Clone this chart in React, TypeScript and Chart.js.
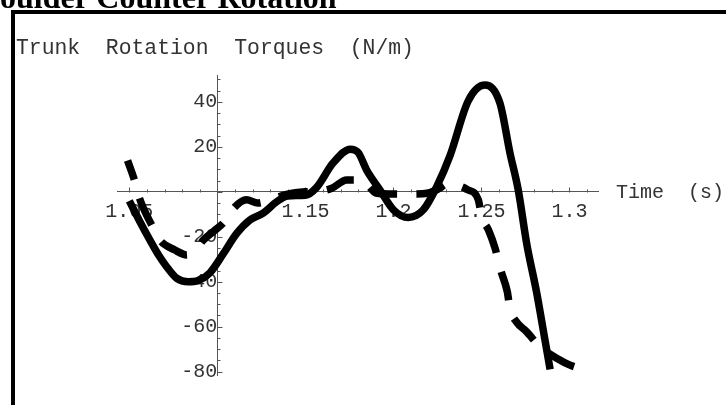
import React, { useEffect, useRef } from "react";
import { Chart, registerables } from "chart.js";

Chart.register(...registerables);

// ---- data ----
const solidTime = [
  1.05, 1.0555, 1.0618, 1.0665, 1.0712, 1.077, 1.0833, 1.089, 1.0958, 1.1034,
  1.111, 1.1185, 1.126, 1.1337, 1.14, 1.15, 1.1564, 1.1657, 1.1755, 1.18,
  1.1848, 1.1924, 1.2, 1.2084, 1.217, 1.2246, 1.2321, 1.2425, 1.252, 1.2605,
  1.2662, 1.2709, 1.2757, 1.2814, 1.2861, 1.289,
];
const solidTorque = [
  -4, -12.5, -21.6, -28, -33.3, -38.5, -40, -39.5, -36, -27.5,
  -18.5, -12.5, -9.5, -4.4, -1.8, -1.5, 2, 12.8, 19, 17.5,
  9.7, 0.8, -8, -11.4, -8, 2.3, 16, 40.5, 47.5, 39.5,
  17.3, 0.8, -23, -45, -66, -79,
];

const dashedTime = [
  1.049, 1.053, 1.0558, 1.0627, 1.0674, 1.0759, 1.0826, 1.088, 1.092, 1.098,
  1.104, 1.109, 1.1165, 1.123, 1.13, 1.14, 1.15, 1.158, 1.165, 1.1734,
  1.182, 1.186, 1.19, 1.2, 1.21, 1.22, 1.226, 1.2302, 1.236, 1.242,
  1.2482, 1.2501, 1.254, 1.2577, 1.261, 1.2647, 1.2662, 1.27, 1.2753, 1.2842,
  1.2885, 1.2927, 1.3, 1.3088,
];
const dashedTorque = [
  14, 5, -2.9, -14.8, -21.5, -25.9, -28.1, -25.5, -21.5, -17.5,
  -13.3, -7.5, -3.5, -5, -3.5, -1, 0, 0.3, 1.6, 5.3,
  5.3, 2.5, -0.5, -1, -1, -0.5, 1.5, 3.5, 3, 1,
  -3.5, -11, -17, -25, -35, -44.5, -52, -58, -62, -69.7,
  -72, -74, -77, -79.3,
];

const xTickValues = [1.05, 1.15, 1.2, 1.25, 1.3];
const xTickLabels = ["1.05", "1.15", "1.2", "1.25", "1.3"];
const yTickValues = [40, 20, -20, -40, -60, -80];
const yTickLabels = ["40", "20", "-20", "-40", "-60", "-80"];

const chartTitle = "oulder Counter Rotation";
const yAxisTitle = "Trunk  Rotation  Torques  (N/m)";
const xAxisTitle = "Time  (s)";

const axisDecor = {
  id: "axisDecor",
  beforeDatasetsDraw(chart: any) {
    const { ctx } = chart;
    const xs = chart.scales.x;
    const ys = chart.scales.y;
    const y0 = Math.round(ys.getPixelForValue(0)) + 0.5;
    const x0 = Math.round(xs.getPixelForValue(1.1)) + 0.5;
    ctx.save();
    ctx.strokeStyle = "#555";
    ctx.lineWidth = 1;
    ctx.beginPath();
    for (let i = 0; i <= 26; i++) {
      const t = 1.05 + i * 0.01;
      if (t > xs.max) break;
      const px = Math.round(xs.getPixelForValue(t)) + 0.5;
      const major = i % 5 === 0;
      ctx.moveTo(px, y0);
      ctx.lineTo(px, y0 - (major ? 5 : 3));
    }
    for (let v = -80; v <= 50; v += 5) {
      const py = Math.round(ys.getPixelForValue(v)) + 0.5;
      const major = v % 20 === 0;
      ctx.moveTo(x0, py);
      ctx.lineTo(x0 + (major ? 5 : 3), py);
    }
    ctx.stroke();

    ctx.fillStyle = "#333";
    ctx.textAlign = "left";
    ctx.font = '21.4px "Liberation Mono"';
    ctx.textBaseline = "alphabetic";
    ctx.fillText(yAxisTitle, 16, 54);
    ctx.font = '20px "Liberation Mono"';
    ctx.textBaseline = "middle";
    ctx.fillText(xAxisTitle, 616, y0);
    ctx.restore();
  },
};

export default function App() {
  const ref = useRef<HTMLCanvasElement>(null);

  useEffect(() => {
    if (!ref.current) return;
    const common = {
      borderColor: "#000",
      borderWidth: 7.5,
      pointRadius: 0,
      cubicInterpolationMode: "monotone" as const,
      borderJoinStyle: "round" as const,
      borderCapStyle: "butt" as const,
      fill: false,
      clip: false as any,
    };
    const chart = new Chart(ref.current, {
      type: "line",
      data: {
        datasets: [
          {
            ...common,
            label: "solid",
            data: solidTime.map((t, i) => ({ x: t, y: solidTorque[i] })),
          },
          {
            ...common,
            label: "dashed",
            borderDash: [29.4, 19.3],
            borderDashOffset: 9,
            data: dashedTime.map((t, i) => ({ x: t, y: dashedTorque[i] })),
          },
        ],
      },
      options: {
        animation: false,
        responsive: false,
        events: [],
        layout: { padding: { left: 117, top: 75, right: 128, bottom: 30 } },
        plugins: {
          legend: { display: false },
          tooltip: { enabled: false },
          title: { display: false },
        },
        scales: {
          x: {
            type: "linear",
            min: 1.043,
            max: 1.3162,
            position: { y: 0 } as any,
            grid: { display: true, drawOnChartArea: false, drawTicks: false },
            border: { display: true, color: "#555", width: 1 },
            afterBuildTicks: (s: any) => {
              s.ticks = xTickValues.map((v) => ({ value: v }));
            },
            ticks: {
              autoSkip: false,
              maxRotation: 0,
              minRotation: 0,
              padding: 8,
              color: "#333",
              font: { family: "Liberation Mono", size: 20 },
              callback: (_v: any, i: number) => xTickLabels[i],
            },
          },
          y: {
            type: "linear",
            min: -81.5,
            max: 52,
            position: { x: 1.1 } as any,
            grid: { display: true, drawOnChartArea: false, drawTicks: false },
            border: { display: true, color: "#555", width: 1 },
            afterBuildTicks: (s: any) => {
              s.ticks = yTickValues.map((v) => ({ value: v }));
            },
            ticks: {
              autoSkip: false,
              padding: 13,
              color: "#333",
              font: { family: "Liberation Mono", size: 20 },
              callback: (_v: any, i: number) => yTickLabels[i],
            },
          },
        },
      },
      plugins: [axisDecor],
    });
    return () => chart.destroy();
  }, []);

  return (
    <div
      style={{
        position: "absolute",
        left: 0,
        top: 0,
        width: 726,
        height: 405,
        overflow: "hidden",
        background: "#fff",
      }}
    >
      <canvas
        ref={ref}
        width={726}
        height={405}
        style={{ position: "absolute", left: 0, top: 0, width: 726, height: 405 }}
      />
      <div
        style={{
          position: "absolute",
          left: 11,
          top: 10,
          width: 760,
          height: 420,
          boxSizing: "border-box",
          borderLeft: "4px solid #000",
          borderTop: "4.5px solid #000",
        }}
      />
      <div
        style={{
          position: "absolute",
          left: 0,
          top: -19,
          font: 'bold 32px "Liberation Serif"',
          lineHeight: "32px",
          whiteSpace: "nowrap",
          color: "#000",
        }}
      >
        {chartTitle}
      </div>
    </div>
  );
}
